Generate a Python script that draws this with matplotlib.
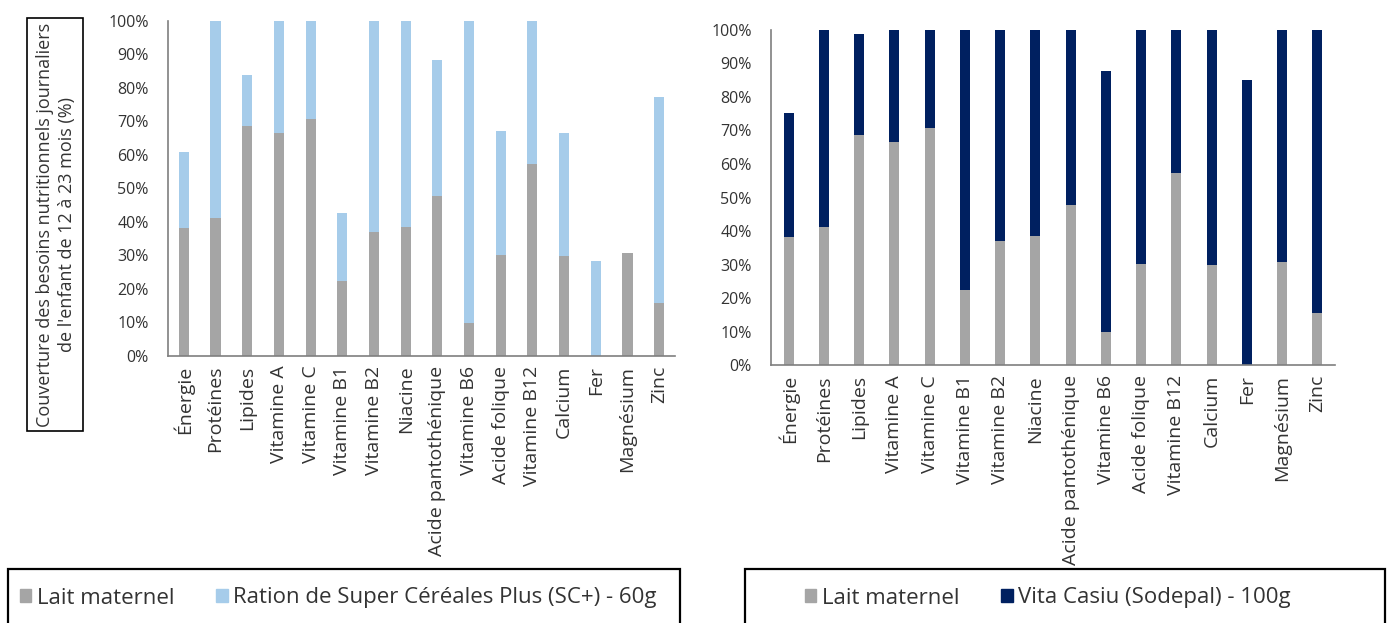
import matplotlib
matplotlib.use("Agg")
import matplotlib.pyplot as plt
from matplotlib.patches import Patch, Rectangle
from matplotlib.ticker import FuncFormatter, MultipleLocator

plt.rcParams["font.family"] = ["Open Sans", "DejaVu Sans"]

nutrients = ["Énergie", "Protéines", "Lipides", "Vitamine A", "Vitamine C",
             "Vitamine B1", "Vitamine B2", "Niacine", "Acide pantothénique",
             "Vitamine B6", "Acide folique", "Vitamine B12", "Calcium", "Fer",
             "Magnésium", "Zinc"]

# Share of daily needs covered by breast milk (%)
lait_maternel = [38.1, 41.2, 68.6, 66.4, 70.7, 22.4, 37.1, 38.4, 47.8,
                 9.9, 30.1, 57.2, 29.8, 0.0, 30.8, 15.7]

# Total coverage (breast milk + supplement), capped at 100 %
total_sc_plus = [60.9, 100, 83.8, 100, 100, 42.7, 100, 100, 88.3,
                 100, 67.2, 100, 66.5, 28.4, 30.8, 77.1]
total_vita_casiu = [75.1, 100, 98.7, 100, 100, 100, 100, 100, 100,
                    87.8, 100, 100, 100, 85.0, 100, 100]

sc_plus = [t - m for t, m in zip(total_sc_plus, lait_maternel)]
vita_casiu = [t - m for t, m in zip(total_vita_casiu, lait_maternel)]

GREY = "#A5A5A5"
LIGHT_BLUE = "#A6CCEA"
NAVY = "#002060"
TEXT = "#333333"
SPINE = "#7F7F7F"

W, H = 1392, 623
fig = plt.figure(figsize=(W / 100, H / 100), dpi=100)


def px_axes(x0, y0, x1, y1):
    return fig.add_axes([x0 / W, 1 - y1 / H, (x1 - x0) / W, (y1 - y0) / H])


def style(ax):
    ax.set_ylim(0, 100)
    ax.set_xlim(-0.5, len(nutrients) - 0.5)
    ax.yaxis.set_major_locator(MultipleLocator(10))
    ax.yaxis.set_major_formatter(FuncFormatter(lambda v, _: f"{v:.0f}%"))
    ax.set_xticks(range(len(nutrients)))
    ax.set_xticklabels(nutrients, rotation=90, fontsize=14, color=TEXT)
    ax.tick_params(axis="y", length=0, pad=14, labelsize=11.5, labelcolor=TEXT)
    ax.tick_params(axis="x", length=0, pad=7)
    for s in ("top", "right"):
        ax.spines[s].set_visible(False)
    for s in ("left", "bottom"):
        ax.spines[s].set_color(SPINE)
        ax.spines[s].set_linewidth(1.2)


x = range(len(nutrients))

# Left panel: breast milk + Super Céréales Plus
ax1 = px_axes(168, 20.7, 675, 356)
ax1.bar(x, lait_maternel, width=0.32, color=GREY)
ax1.bar(x, sc_plus, bottom=lait_maternel, width=0.32, color=LIGHT_BLUE)
style(ax1)

# Right panel: breast milk + Vita Casiu
ax2 = px_axes(771, 29.7, 1335, 365.3)
ax2.bar(x, lait_maternel, width=0.29, color=GREY)
ax2.bar(x, vita_casiu, bottom=lait_maternel, width=0.29, color=NAVY)
style(ax2)

# Boxed y-axis title
fig.patches.append(Rectangle((27 / W, 1 - 431 / H), 56 / W, 413 / H,
                             transform=fig.transFigure, fill=False,
                             edgecolor="#000000", linewidth=1.2))
fig.text(56 / W, 1 - 224.5 / H,
         "Couverture des besoins nutritionnels journaliers\n"
         "de l'enfant de 12 à 23 mois (%)",
         rotation=90, ha="center", va="center", fontsize=13,
         color=TEXT, linespacing=1.3, multialignment="center")

# Legend boxes
for bx0, bx1 in ((8, 680), (745, 1385)):
    fig.patches.append(Rectangle((bx0 / W, -0.02), (bx1 - bx0) / W,
                                 0.02 + (H - 569) / H,
                                 transform=fig.transFigure, fill=False,
                                 edgecolor="#000000", linewidth=1.6))

legend_kw = dict(loc="center left", frameon=False, ncol=2, fontsize=16,
                 handlelength=0.5, handleheight=0.5, handletextpad=0.25,
                 columnspacing=1.9, borderpad=0, borderaxespad=0,
                 labelcolor=TEXT)
fig.legend([Patch(color=GREY), Patch(color=LIGHT_BLUE)],
           ["Lait maternel", "Ration de Super Céréales Plus (SC+) - 60g"],
           bbox_to_anchor=(20 / W, 1 - 598 / H), **legend_kw)
fig.legend([Patch(color=GREY), Patch(color=NAVY)],
           ["Lait maternel", "Vita Casiu (Sodepal) - 100g"],
           bbox_to_anchor=(805 / W, 1 - 598 / H), **legend_kw)

fig.savefig("out.png", dpi=100)
